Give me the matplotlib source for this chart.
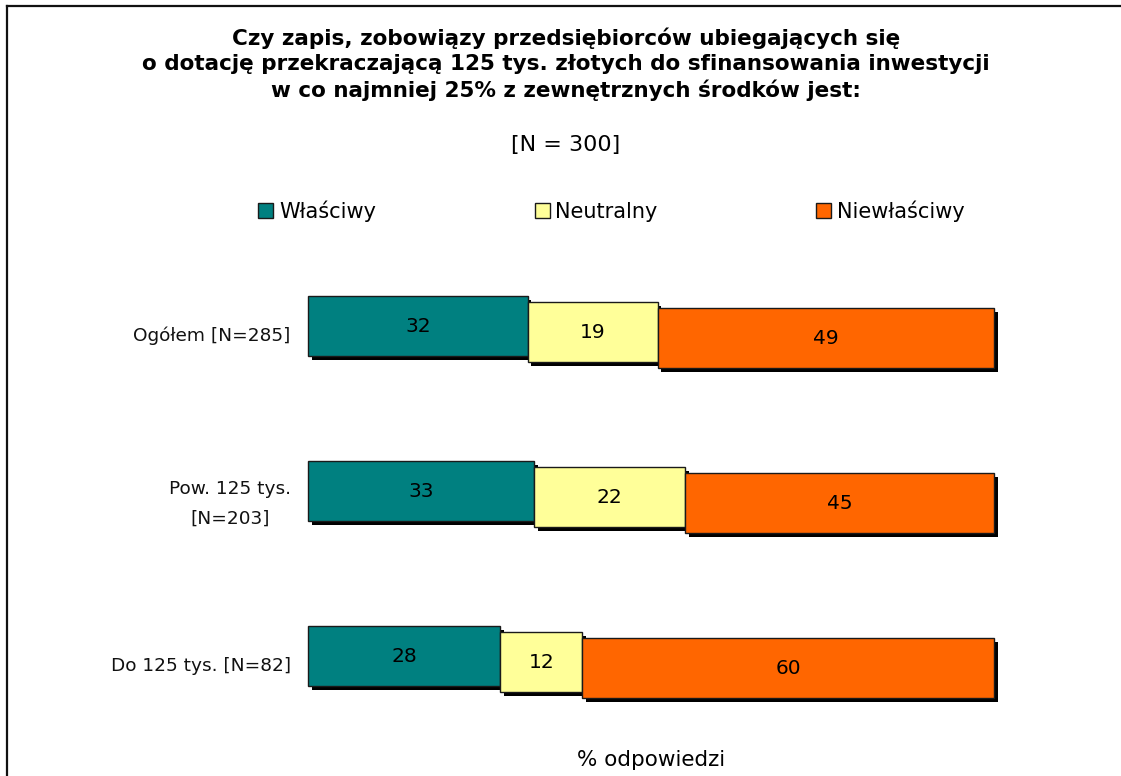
import matplotlib.pyplot as plt
import matplotlib.patheffects as pe
from matplotlib.lines import Line2D

categories = ["Ogółem [N=285]", "Pow. 125 tys.\n[N=203]", "Do 125 tys. [N=82]"]
series = ["Właściwy", "Neutralny", "Niewłaściwy"]
wlasciwy = [32, 33, 28]
neutralny = [19, 22, 12]
niewlasciwy = [49, 45, 60]
values = [wlasciwy, neutralny, niewlasciwy]
colors = ["#008080", "#FFFF99", "#FF6600"]

W, H = 1121, 776
fig = plt.figure(figsize=(W / 100, H / 100), dpi=100)
plt.rcParams['font.family'] = ['DejaVu Sans']

# axes placed in pixel terms: x 308..994, y 250..740
ax = fig.add_axes([308 / W, 1 - 740 / H, 686 / W, 490 / H])
ax.set_xlim(0, 100)
ax.set_ylim(2.509, -0.4606)
ax.axis("off")

bar_h = 60 / 165
step = 6 / 165  # each segment sits a bit lower (3d look)
shadow = [pe.SimplePatchShadow(offset=(2.6, -2.6), shadow_rgbFace="black", alpha=1.0), pe.Normal()]

left = [0, 0, 0]
for s, (vals, col) in enumerate(zip(values, colors)):
    ys = [i + s * step for i in range(len(categories))]
    bars = ax.barh(ys, vals, left=left, height=bar_h, color=col,
                   edgecolor="#1a1a1a", linewidth=1.0, zorder=2 + s)
    for b in bars:
        b.set_path_effects(shadow)
        b.set_clip_on(False)
    for y, v, l in zip(ys, vals, left):
        ax.text(l + v / 2, y, str(v), ha="center", va="center",
                fontsize=14.5, color="black", zorder=10)
    left = [l + v for l, v in zip(left, vals)]

for i, cat in enumerate(categories):
    dy = 0.08 if "\n" in cat else 0.062
    ax.text(-2.5, i + dy, cat, ha="right", va="center", multialignment="center",
            fontsize=13.3, color="#111111", linespacing=1.85)

fig.text(566 / W, 1 - 64 / H,
         "Czy zapis, zobowiązy przedsiębiorców ubiegających się\n"
         "o dotację przekraczającą 125 tys. złotych do sfinansowania inwestycji\n"
         "w co najmniej 25% z zewnętrznych środków jest:",
         ha="center", va="center", fontsize=15.5, fontweight="bold", linespacing=1.3)
fig.text(566 / W, 1 - 145 / H, "[N = 300]", ha="center", va="center", fontsize=16)

handles = [plt.Rectangle((0, 0), 1, 1, facecolor=c, edgecolor="#1a1a1a", linewidth=1.0)
           for c in colors]
fig.legend(handles, series, loc="center", bbox_to_anchor=(611.5 / W, 1 - 211 / H),
           ncol=3, frameon=False, fontsize=15, handlelength=0.72, handleheight=0.72,
           handletextpad=0.28, columnspacing=7.6, borderpad=0, borderaxespad=0)

fig.text(651 / W, 1 - 760 / H, "% odpowiedzi", ha="center", va="center", fontsize=15.5)

# border (top and left visible)
fig.add_artist(Line2D([7 / W, 1], [1 - 6 / H, 1 - 6 / H], color="#111111", linewidth=1.6))
fig.add_artist(Line2D([7 / W, 7 / W], [0, 1 - 6 / H], color="#111111", linewidth=1.6))

fig.savefig("out.png", dpi=100)
